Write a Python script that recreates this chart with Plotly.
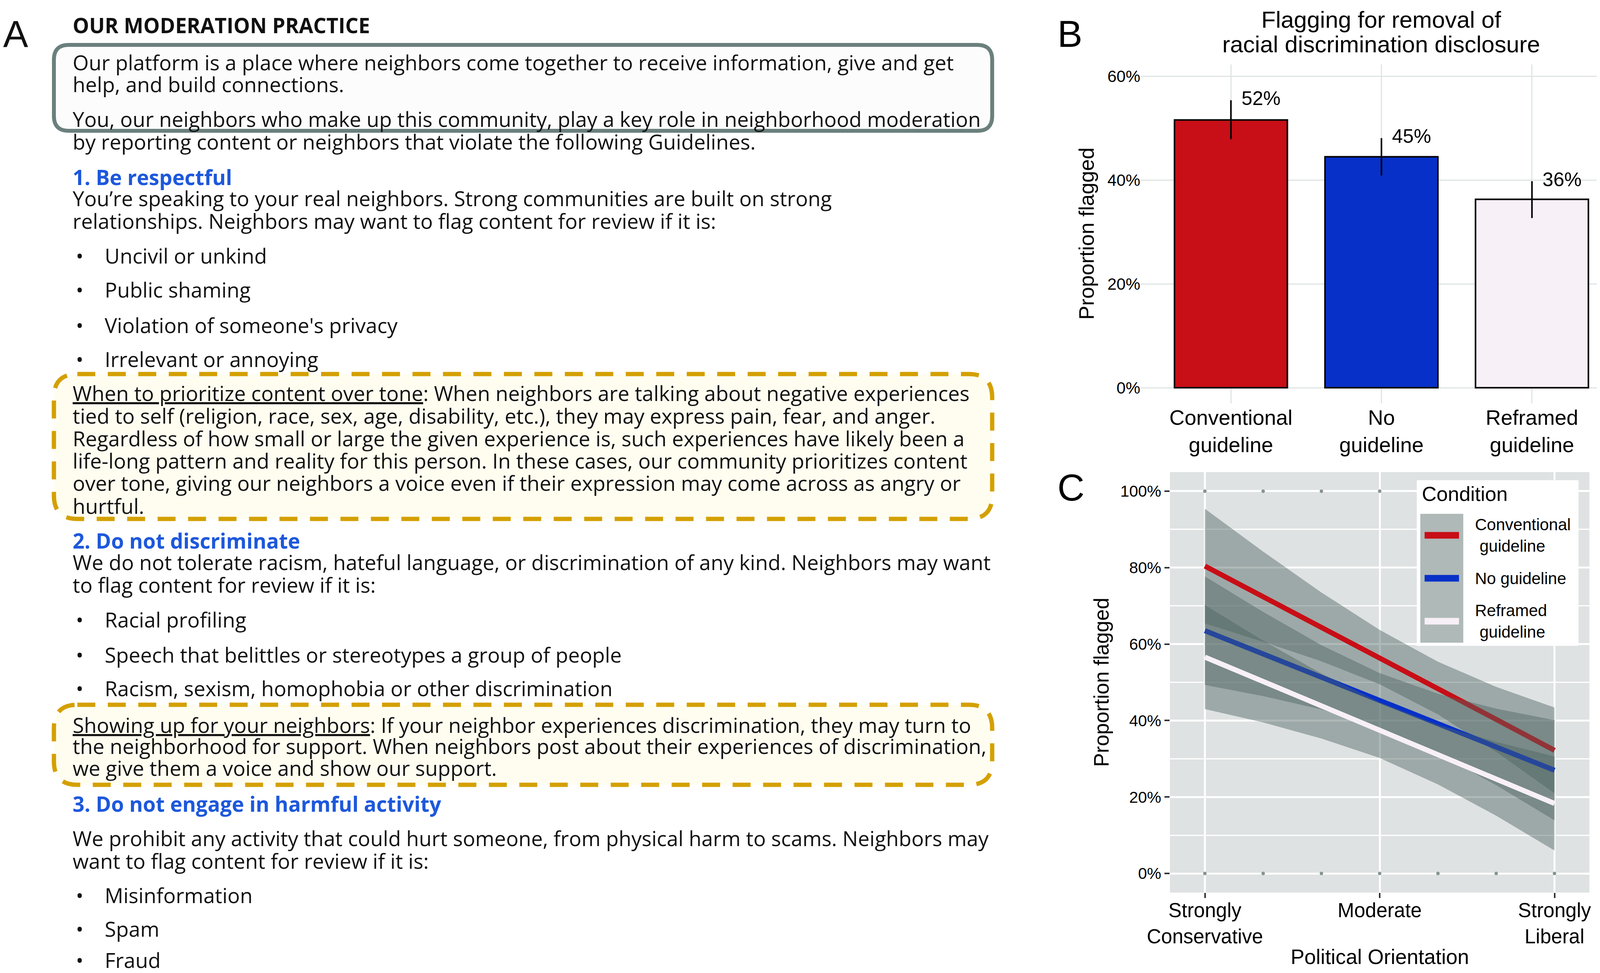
import plotly.graph_objects as go

W, H = 4155, 2492

# ---------------- Panel B data ----------------
conditions = ["Conventional guideline", "No guideline", "Reframed guideline"]
cond_ticktext = ["Conventional<br>guideline", "No<br>guideline", "Reframed<br>guideline"]
cond_index = [0, 1, 2]
flag_pct = [51.6, 44.5, 36.3]
flag_ci_low = [47.9, 40.9, 32.7]
flag_ci_high = [55.4, 48.1, 39.8]
flag_labels = ["52%", "45%", "36%"]
bar_yticks = [0, 20, 40, 60]
bar_yticktext = ["0%", "20%", "40%", "60%"]

# ---------------- Panel C data ----------------
orientation = [1, 2, 3, 4, 5, 6, 7]
orient_tickvals = [1, 4, 7]
orient_ticktext = ["Strongly<br>Conservative", "Moderate", "Strongly<br>Liberal"]
conv_fit = [80.4, 72.4, 64.5, 56.6, 48.5, 40.3, 32.2]
conv_low = [65.4, 60.6, 55.5, 49.5, 41.6, 31.8, 21.0]
conv_high = [95.4, 84.2, 73.5, 63.7, 55.4, 48.8, 43.4]
no_fit = [63.5, 57.4, 51.3, 45.3, 39.2, 33.1, 27.0]
no_low = [49.3, 46.4, 42.9, 38.2, 31.4, 23.1, 13.9]
no_high = [77.7, 68.4, 59.7, 52.4, 47.0, 43.1, 40.1]
ref_fit = [56.6, 50.2, 43.8, 37.5, 31.1, 24.7, 18.3]
ref_low = [43.0, 39.5, 35.3, 30.2, 23.3, 15.1, 6.0]
ref_high = [70.2, 60.9, 52.3, 44.8, 38.9, 34.4, 30.6]
obs_orientation = [1, 2, 3, 4, 5, 6, 7, 1, 2, 3, 4, 5, 6, 7]
obs_response = [0, 0, 0, 0, 0, 0, 0, 100, 100, 100, 100, 100, 100, 100]
line_yticks = [0, 20, 40, 60, 80, 100]
line_yticktext = ["0%", "20%", "40%", "60%", "80%", "100%"]
line_yminor = [10, 30, 50, 70, 90]
legend_labels = ["Conventional<br> guideline", "No guideline", "Reframed<br> guideline"]

# ---------------- Panel A text ----------------
header = "OUR MODERATION PRACTICE"
intro_lines = [
    "Our platform is a place where neighbors come together to receive information, give and get",
    "help, and build connections.",
    "You, our neighbors who make up this community, play a key role in neighborhood moderation",
    "by reporting content or neighbors that violate the following Guidelines.",
]
rule1_title = "1. Be respectful"
rule1_lines = [
    "You\u2019re speaking to your real neighbors. Strong communities are built on strong",
    "relationships. Neighbors may want to flag content for review if it is:",
]
rule1_bullets = ["Uncivil or unkind", "Public shaming", "Violation of someone's privacy", "Irrelevant or annoying"]
box1_lines = [
    "<u>When to prioritize content over tone</u>: When neighbors are talking about negative experiences",
    "tied to self (religion, race, sex, age, disability, etc.), they may express pain, fear, and anger.",
    "Regardless of how small or large the given experience is, such experiences have likely been a",
    "life-long pattern and reality for this person. In these cases, our community prioritizes content",
    "over tone, giving our neighbors a voice even if their expression may come across as angry or",
    "hurtful.",
]
rule2_title = "2. Do not discriminate"
rule2_lines = [
    "We do not tolerate racism, hateful language, or discrimination of any kind. Neighbors may want",
    "to flag content for review if it is:",
]
rule2_bullets = ["Racial profiling", "Speech that belittles or stereotypes a group of people",
                 "Racism, sexism, homophobia or other discrimination"]
box2_lines = [
    "<u>Showing up for your neighbors</u>: If your neighbor experiences discrimination, they may turn to",
    "the neighborhood for support. When neighbors post about their experiences of discrimination,",
    "we give them a voice and show our support.",
]
rule3_title = "3. Do not engage in harmful activity"
rule3_lines = [
    "We prohibit any activity that could hurt someone, from physical harm to scams. Neighbors may",
    "want to flag content for review if it is:",
]
rule3_bullets = ["Misinformation", "Spam", "Fraud"]

# ---------------- styles ----------------
RED, BLUE, LIGHT = "#c80e16", "#0730c8", "#f7f0f6"
cond_colors = [RED, BLUE, LIGHT]
RIBBON = "rgba(77,100,98,0.45)"
HEAD_BLUE = "#1d58dc"
SANS = "Liberation Sans, Arial, sans-serif"
OPEN = "Open Sans, Noto Sans, sans-serif"


def X(px):
    return px / W


def Y(py):
    return 1 - py / H


fig = go.Figure()

# ---- Panel B bars ----
fig.add_trace(go.Bar(
    x=cond_index, y=flag_pct, width=0.75,
    marker=dict(color=cond_colors, line=dict(color="black", width=4)),
    error_y=dict(type="data", symmetric=False,
                 array=[h - v for h, v in zip(flag_ci_high, flag_pct)],
                 arrayminus=[v - l for v, l in zip(flag_pct, flag_ci_low)],
                 color="black", thickness=4, width=0),
    xaxis="x", yaxis="y", showlegend=False, hoverinfo="skip"))
fig.add_trace(go.Scatter(
    x=[i + 0.2 for i in cond_index], y=flag_ci_high, mode="text", text=flag_labels,
    textposition="middle center", textfont=dict(family=SANS, size=50, color="black"),
    xaxis="x", yaxis="y", showlegend=False, hoverinfo="skip"))

# ---- Panel C ----
fig.add_trace(go.Scatter(
    x=obs_orientation, y=obs_response, mode="markers",
    marker=dict(color="#86948f", size=9), xaxis="x2", yaxis="y2",
    showlegend=False, hoverinfo="skip"))
for fit, lo, hi, col in [(conv_fit, conv_low, conv_high, RED),
                         (no_fit, no_low, no_high, BLUE),
                         (ref_fit, ref_low, ref_high, LIGHT)]:
    fig.add_trace(go.Scatter(
        x=orientation + orientation[::-1], y=hi + lo[::-1], mode="lines",
        fill="toself", fillcolor=RIBBON, line=dict(width=0),
        xaxis="x2", yaxis="y2", showlegend=False, hoverinfo="skip"))
    fig.add_trace(go.Scatter(
        x=orientation, y=fit, mode="lines", line=dict(color=col, width=13),
        xaxis="x2", yaxis="y2", showlegend=False, hoverinfo="skip"))

annotations = []
shapes = []


def txt(x, y, text, size, color="#111111", family=OPEN, xanchor="left", angle=0):
    annotations.append(dict(x=X(x), y=Y(y), xref="paper", yref="paper", text=text,
                            showarrow=False, xanchor=xanchor, yanchor="middle",
                            textangle=angle,
                            font=dict(family=family, size=size, color=color)))


def rrect(x0, y0, x1, y1, r):
    return (f"M {X(x0 + r)},{Y(y0)} L {X(x1 - r)},{Y(y0)} Q {X(x1)},{Y(y0)} {X(x1)},{Y(y0 + r)} "
            f"L {X(x1)},{Y(y1 - r)} Q {X(x1)},{Y(y1)} {X(x1 - r)},{Y(y1)} "
            f"L {X(x0 + r)},{Y(y1)} Q {X(x0)},{Y(y1)} {X(x0)},{Y(y1 - r)} "
            f"L {X(x0)},{Y(y0 + r)} Q {X(x0)},{Y(y0)} {X(x0 + r)},{Y(y0)} Z")


# ---- Panel A boxes ----
shapes.append(dict(type="path", xref="paper", yref="paper", path=rrect(130, 107, 2532, 327, 38),
                   line=dict(color="#6b807d", width=10), fillcolor="#fcfcfc", layer="below"))
for y0, y1 in [(950, 1321), (1797, 2002)]:
    shapes.append(dict(type="path", xref="paper", yref="paper", path=rrect(130, y0, 2532, y1, 60),
                       line=dict(color="#d4a000", width=11, dash="46px,32px"),
                       fillcolor="#fffdf0", layer="below"))

# ---- Panel A text ----
TX, BX, BTX = 176, 184, 258
FS = 53
txt(TX, 57, f"<b>{header}</b>", 53)
txt(-2, 78, "A", 96, family=SANS)
for t, y in zip(intro_lines, [152, 207, 296, 354]):
    txt(TX, y, t, FS)
txt(TX, 445, f"<b>{rule1_title}</b>", FS, color=HEAD_BLUE)
for t, y in zip(rule1_lines, [500, 557]):
    txt(TX, y, t, FS)
for t, y in zip(rule1_bullets, [647, 733, 824, 912]):
    txt(BX, y, "\u2022", FS)
    txt(BTX, y, t, FS)
for t, y in zip(box1_lines, [998, 1056, 1114, 1172, 1228, 1287]):
    txt(TX, y, t, FS)
txt(TX, 1376, f"<b>{rule2_title}</b>", FS, color=HEAD_BLUE)
for t, y in zip(rule2_lines, [1431, 1489]):
    txt(TX, y, t, FS)
for t, y in zip(rule2_bullets, [1578, 1668, 1754]):
    txt(BX, y, "\u2022", FS)
    txt(BTX, y, t, FS)
for t, y in zip(box2_lines, [1848, 1902, 1958]):
    txt(TX, y, t, FS)
txt(TX, 2050, f"<b>{rule3_title}</b>", FS, color=HEAD_BLUE)
for t, y in zip(rule3_lines, [2138, 2196]):
    txt(TX, y, t, FS)
for t, y in zip(rule3_bullets, [2284, 2370, 2450]):
    txt(BX, y, "\u2022", FS)
    txt(BTX, y, t, FS)

# ---- Panel B / C labels ----
txt(2697, 78, "B", 96, color="black", family=SANS)
txt(2697, 1240, "C", 96, color="black", family=SANS)
txt(3528, 42, "Flagging for removal of", 60, color="black", family=SANS, xanchor="center")
txt(3528, 106, "racial discrimination disclosure", 60, color="black", family=SANS, xanchor="center")
txt(2773, 591, "Proportion flagged", 54, color="black", family=SANS, xanchor="center", angle=-90)
txt(2811, 1740, "Proportion flagged", 53, color="black", family=SANS, xanchor="center", angle=-90)
txt(3524, 2442, "Political Orientation", 53, color="black", family=SANS, xanchor="center")

# ---- Panel C background ----
shapes.append(dict(type="rect", xref="x2 domain", yref="y2 domain", x0=0, x1=1, y0=0, y1=1,
                   fillcolor="#dfe2e2", line=dict(width=0), layer="below"))

# ---- Panel C manual legend ----
shapes.append(dict(type="rect", xref="paper", yref="paper", x0=X(3619), x1=X(4033), y0=Y(1646), y1=Y(1222),
                   fillcolor="white", line=dict(width=0), layer="above"))
txt(3630, 1257, "Condition", 52, color="black", family=SANS)
key_tops = [1308, 1418, 1528]
for i, (lab, col) in enumerate(zip(legend_labels, cond_colors)):
    top = key_tops[i]
    shapes.append(dict(type="rect", xref="paper", yref="paper", x0=X(3628), x1=X(3738),
                       y0=Y(top + 110), y1=Y(top), fillcolor=RIBBON, line=dict(width=0), layer="above"))
    shapes.append(dict(type="line", xref="paper", yref="paper", x0=X(3639), x1=X(3727),
                       y0=Y(top + 55), y1=Y(top + 55), line=dict(color=col, width=17), layer="above"))
    annotations.append(dict(x=X(3766), y=Y(top + 55), xref="paper", yref="paper", text=lab,
                            showarrow=False, xanchor="left", yanchor="middle", align="left",
                            font=dict(family=SANS, size=42, color="black")))

fig.update_layout(
    width=W, height=H, margin=dict(l=0, r=0, t=0, b=0),
    paper_bgcolor="white", plot_bgcolor="white",
    showlegend=False, annotations=annotations, shapes=shapes,
    xaxis=dict(domain=[X(2912), X(4145)], range=[-0.6, 2.6], tickvals=cond_index,
               ticktext=cond_ticktext, showgrid=True, gridcolor="#e0e4e4", gridwidth=3,
               zeroline=False, showline=False, ticks="", automargin=False,
               tickfont=dict(family=SANS, size=54, color="black"), anchor="y"),
    yaxis=dict(domain=[Y(1025), Y(157)], range=[-3, 62.3], tickvals=bar_yticks,
               ticktext=bar_yticktext,
               showgrid=True, gridcolor="#e0e4e4", gridwidth=3, zeroline=False, showline=False,
               ticks="", automargin=False, tickfont=dict(family=SANS, size=42, color="black"),
               anchor="x"),
    xaxis2=dict(domain=[X(2987), X(4061)], range=[0.4, 7.6], tickvals=orient_tickvals,
                ticktext=orient_ticktext, showgrid=True, gridcolor="white", gridwidth=5,
                zeroline=False, showline=False, ticks="outside", ticklen=13, tickwidth=4,
                tickcolor="#333333", automargin=False, ticklabelstandoff=-12,
                tickfont=dict(family=SANS, size=51, color="black"), anchor="y2"),
    yaxis2=dict(domain=[Y(2278), Y(1201)], range=[-5, 105], tickvals=line_yticks,
                ticktext=line_yticktext,
                showgrid=True, gridcolor="white", gridwidth=5, zeroline=False, showline=False,
                ticks="outside", ticklen=13, tickwidth=4, tickcolor="#333333", automargin=False,
                minor=dict(tickvals=line_yminor, showgrid=True, gridcolor="white", gridwidth=3, ticks=""),
                tickfont=dict(family=SANS, size=41, color="black"), anchor="x2"),
)

fig.write_html("out.html")
